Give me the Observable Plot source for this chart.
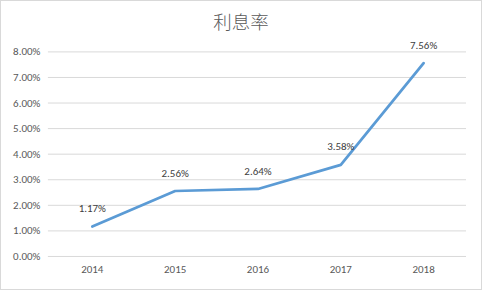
<!DOCTYPE html>
<html><head><meta charset="utf-8">
<script src="https://cdn.jsdelivr.net/npm/d3@7"></script>
<script src="https://cdn.jsdelivr.net/npm/@observablehq/plot@0.6"></script>
<style>
html,body{margin:0;padding:0;background:#fff;}
#wrap{position:relative;width:482px;height:290px;box-sizing:border-box;border:1px solid #d9d9d9;overflow:hidden;}
#title{position:absolute;left:0;right:0;top:7px;text-align:center;font-family:"Noto Sans CJK SC",sans-serif;font-weight:300;font-size:18.5px;line-height:26px;color:#595959;}
#chart{position:absolute;left:-1px;top:-1px;}
</style></head>
<body><div id="wrap"><div id="title">利息率</div><div id="chart"></div></div>
<script>
const years = ["2014","2015","2016","2017","2018"];
const rates = [1.17, 2.56, 2.64, 3.58, 7.56];
const yTicks = [0,1,2,3,4,5,6,7,8];
const data = years.map((y,i)=>({year:y, rate:rates[i]}));
const fmt = d => d.toFixed(2) + "%";
const chart = Plot.plot({
  width: 482, height: 290,
  marginTop: 51.5, marginBottom: 33.5, marginLeft: 48, marginRight: 15,
  style: {fontFamily: "Calibri, Carlito, 'Liberation Sans', sans-serif", fontSize: "11px", color: "#595959", background: "transparent"},
  x: {type: "point", domain: years, padding: 0.5, label: null, tickSize: 0, tickPadding: 9},
  y: {domain: [0, 8], ticks: yTicks, tickFormat: fmt, label: null, tickSize: 0, tickPadding: 8},
  marks: [
    Plot.gridY(yTicks, {stroke: "#d9d9d9", strokeOpacity: 1, strokeWidth: 1}),
    Plot.line(data, {x: "year", y: "rate", stroke: "#5b9bd5", strokeWidth: 2.75, strokeLinecap: "round", strokeLinejoin: "round"}),
    Plot.text(data, {x: "year", y: "rate", text: d => fmt(d.rate), dy: -18, fill: "#404040", fontSize: 11})
  ]
});
document.getElementById("chart").appendChild(chart);
</script></body></html>
